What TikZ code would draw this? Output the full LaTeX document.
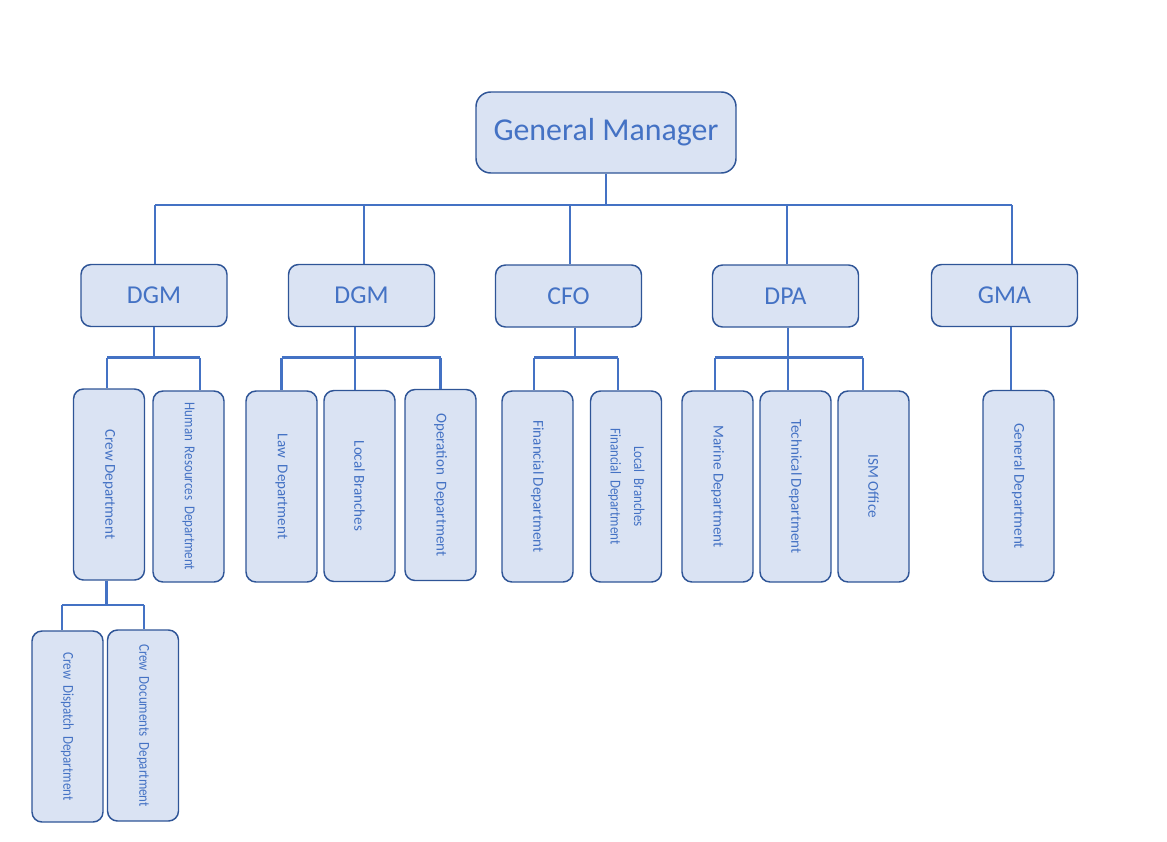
\documentclass[tikz,border=0pt]{standalone}
\usepackage{fontspec}
\usepackage{graphicx}
\setmainfont{Carlito}
\newfontfamily\condfont[FakeStretch=0.86]{Carlito}
\definecolor{boxfill}{HTML}{DAE3F3}
\definecolor{boxline}{HTML}{2F5597}
\definecolor{txtblue}{HTML}{4472C4}
\definecolor{lineblue}{HTML}{4472C4}
\begin{document}
\begin{tikzpicture}[x=0.75pt,y=-0.75pt,
  basebox/.style={draw=boxline, line width=1.1pt, fill=boxfill, text=txtblue, inner sep=0pt, align=center},
  gmbox/.style={basebox, minimum width=195pt, minimum height=60.75pt, rounded corners=11pt, font=\fontsize{23.9}{28}\selectfont},
  lvlbox/.style={basebox, minimum width=109.5pt, minimum height=46.5pt, rounded corners=7.5pt, font=\fontsize{19.3}{23}\selectfont},
  deptbox/.style={basebox, minimum width=53.25pt, minimum height=143.25pt, rounded corners=7.5pt, font=\fontsize{11.3}{13.5}\selectfont},
  conn/.style={draw=lineblue, line width=1.6pt}]
\useasboundingbox (0,0) rectangle (1167,842);

% top level
\node[gmbox] (gm) at (606,132.5) {General Manager};

% second level
\node[lvlbox] (dgm1) at (154,295.5) {DGM};
\node[lvlbox] (dgm2) at (361.5,295.5) {DGM};
\node[lvlbox] (cfo) at (568.5,296) {CFO};
\node[lvlbox] (dpa) at (785.5,296) {DPA};
\node[lvlbox] (gma) at (1004.5,295.5) {GMA};

% departments
\node[deptbox] (crew) at (109,484.5) {\rotatebox{-90}{Crew Department}};
\node[deptbox] (hr) at (188.5,486.5) {\rotatebox{-90}{\condfont Human\ \ Resources\ \ Department}};
\node[deptbox] (law) at (281.5,486.5) {\rotatebox{-90}{Law\ \ Department}};
\node[deptbox] (local) at (359.5,486) {\rotatebox{-90}{Local Branches}};
\node[deptbox] (oper) at (440.5,485) {\rotatebox{-90}{Operation\ \ Department}};
\node[deptbox] (fin) at (537.5,486.5) {\rotatebox{-90}{Financial Department}};
\node[deptbox] (lbfin) at (626,486.5) {\rotatebox{-90}{\condfont\begin{tabular}{@{}c@{}}Local\ \ Branches\\[4pt]Financial\ \ Department\end{tabular}}};
\node[deptbox] (marine) at (717.5,486.5) {\rotatebox{-90}{Marine Department}};
\node[deptbox] (tech) at (795.5,486.5) {\rotatebox{-90}{Technical Department}};
\node[deptbox] (ism) at (873.5,486.5) {\rotatebox{-90}{ISM Office}};
\node[deptbox] (gen) at (1018.5,486) {\rotatebox{-90}{General Department}};
\node[deptbox] (disp) at (67.5,726.5) {\rotatebox{-90}{\condfont Crew\ \ Dispatch\ \ Department}};
\node[deptbox] (docs) at (143,725.5) {\rotatebox{-90}{\condfont Crew\ \ Documents\ \ Department}};

% bar levels
\coordinate (btop) at (0,205);
\coordinate (bmid) at (0,357.5);
\coordinate (bcrew) at (0,605);

% GM -> second level
\draw[conn] (gm.south) -- (gm.south |- btop);
\foreach \n/\dx in {dgm1/0.75pt, dgm2/1.9pt, cfo/1.1pt, dpa/1.1pt, gma/5.6pt} {
  \coordinate (\n-in) at ([xshift=\dx]\n.north);
  \draw[conn] (\n-in |- btop) -- (\n-in);
}
\draw[conn] (dgm1-in |- btop) -- (gma-in |- btop);

% parents' outgoing points
\foreach \n/\dx in {dgm1/0pt, dgm2/-4.9pt, cfo/4.9pt, dpa/1.9pt, gma/4.9pt, crew/-1.9pt} {
  \coordinate (\n-out) at ([xshift=\dx]\n.south);
}
% children's incoming points
\foreach \n/\dx in {crew/-1.5pt, hr/8.6pt, law/0pt, local/-3.4pt, oper/0pt, fin/-2.6pt, lbfin/-6pt, marine/-1.9pt, tech/-5.6pt, ism/-7.9pt, gen/-5.6pt, disp/-4.1pt, docs/0.75pt} {
  \coordinate (\n-in) at ([xshift=\dx]\n.north);
}

% DGM 1
\draw[conn] (dgm1-out) -- (dgm1-out |- bmid);
\draw[conn] (crew-in |- bmid) -- (hr-in |- bmid);
\draw[conn] (crew-in |- bmid) -- (crew-in);
\draw[conn] (hr-in |- bmid) -- (hr-in);

% DGM 2
\draw[conn] (dgm2-out) -- (dgm2-out |- bmid);
\draw[conn] (law-in |- bmid) -- (oper-in |- bmid);
\draw[conn] (law-in |- bmid) -- (law-in);
\draw[conn] (local-in |- bmid) -- (local-in);
\draw[conn] (oper-in |- bmid) -- (oper-in);

% CFO
\draw[conn] (cfo-out) -- (cfo-out |- bmid);
\draw[conn] (fin-in |- bmid) -- (lbfin-in |- bmid);
\draw[conn] (fin-in |- bmid) -- (fin-in);
\draw[conn] (lbfin-in |- bmid) -- (lbfin-in);

% DPA
\draw[conn] (dpa-out) -- (dpa-out |- bmid);
\draw[conn] (marine-in |- bmid) -- (ism-in |- bmid);
\draw[conn] (marine-in |- bmid) -- (marine-in);
\draw[conn] (tech-in |- bmid) -- (tech-in);
\draw[conn] (ism-in |- bmid) -- (ism-in);

% GMA
\draw[conn] (gma-out) -- (gen-in);

% Crew department
\draw[conn] (crew-out) -- (crew-out |- bcrew);
\draw[conn] (disp-in |- bcrew) -- (docs-in |- bcrew);
\draw[conn] (disp-in |- bcrew) -- (disp-in);
\draw[conn] (docs-in |- bcrew) -- (docs-in);
\end{tikzpicture}
\end{document}
